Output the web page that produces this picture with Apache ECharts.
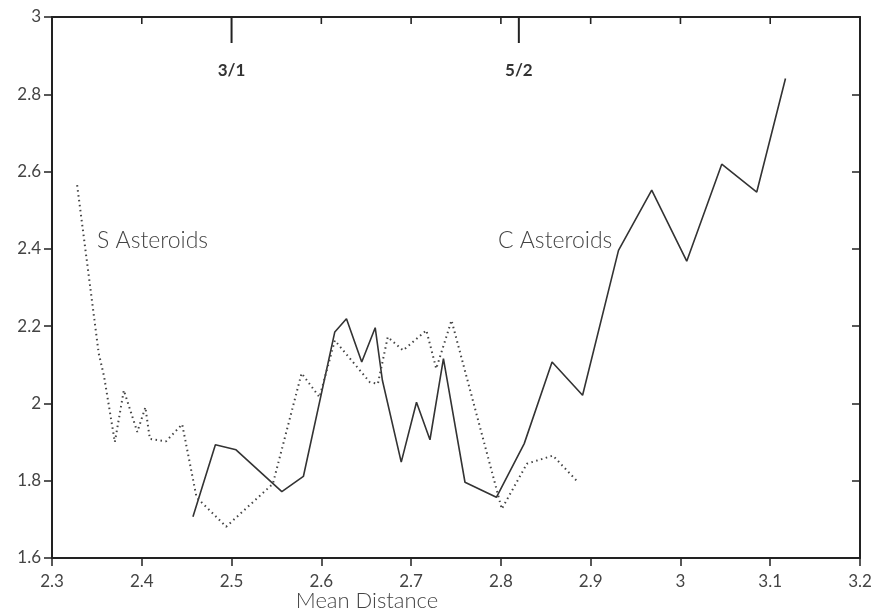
<!DOCTYPE html>
<html>
<head>
<meta charset="utf-8">
<script src="https://cdn.jsdelivr.net/npm/echarts@6/dist/echarts.min.js"></script>
<style>html,body{margin:0;padding:0;background:#fff;}#c{width:889px;height:613px;}</style>
</head>
<body>
<div id="c"></div>
<script>
// C asteroids (solid)
const cX = [2.457, 2.482, 2.505, 2.556, 2.580, 2.615, 2.628, 2.645, 2.660, 2.668, 2.689, 2.706, 2.721, 2.736, 2.760, 2.795, 2.826, 2.857, 2.891, 2.931, 2.968, 3.007, 3.046, 3.085, 3.117];
const cY = [1.707, 1.893, 1.880, 1.772, 1.811, 2.185, 2.219, 2.107, 2.196, 2.060, 1.848, 2.003, 1.906, 2.116, 1.796, 1.757, 1.896, 2.107, 2.021, 2.396, 2.552, 2.368, 2.619, 2.547, 2.841];
// S asteroids (dotted)
const sX = [2.328, 2.352, 2.358, 2.370, 2.380, 2.395, 2.404, 2.409, 2.427, 2.445, 2.461, 2.494, 2.546, 2.578, 2.598, 2.615, 2.654, 2.663, 2.674, 2.691, 2.717, 2.728, 2.745, 2.801, 2.829, 2.858, 2.886];
const sY = [2.565, 2.130, 2.070, 1.900, 2.034, 1.926, 1.990, 1.908, 1.902, 1.946, 1.757, 1.681, 1.792, 2.078, 2.016, 2.163, 2.055, 2.051, 2.172, 2.137, 2.189, 2.090, 2.215, 1.727, 1.844, 1.865, 1.796];
// resonances
const resLabels = ['3/1', '5/2'];
const resX = [2.5, 2.82];
// top-axis minor ticks
const xTicks = [2.4, 2.6, 2.7, 2.8, 2.9, 3.0, 3.1];
const xMin = 2.3, xMax = 3.2, xStep = 0.1;
const yMin = 1.6, yMax = 3, yStep = 0.2;

const FONT = 'Lato, "Open Sans", sans-serif';
const fmt = v => String(+(+v).toFixed(1));
const marks = resX.map((x, i) => [x, yMax, i]).concat(xTicks.map(x => [x, yMax, -1]));
const chart = echarts.init(document.getElementById('c'));
chart.setOption({
  animation: false,
  backgroundColor: '#fff',
  grid: {left: 52, right: 29, top: 17, bottom: 55},
  xAxis: [{
    type: 'value', min: xMin, max: xMax, interval: xStep, position: 'bottom',
    axisLine: {onZero: false, lineStyle: {color: '#222', width: 2}},
    axisTick: {show: true, length: 8, inside: false, lineStyle: {color: '#222', width: 1.5}},
    axisLabel: {formatter: fmt, color: '#444', fontSize: 17, fontFamily: FONT, margin: 15},
    splitLine: {show: false}
  }, {
    type: 'value', min: xMin, max: xMax, interval: xStep, position: 'top',
    axisLine: {show: true, onZero: false, lineStyle: {color: '#222', width: 2}},
    axisTick: {show: false}, axisLabel: {show: false}, splitLine: {show: false}
  }],
  yAxis: [{
    type: 'value', min: yMin, max: yMax, interval: yStep, position: 'left',
    axisLine: {show: true, onZero: false, lineStyle: {color: '#222', width: 2}},
    axisTick: {show: true, length: 8, inside: false, lineStyle: {color: '#222', width: 1.5}},
    axisLabel: {formatter: fmt, color: '#444', fontSize: 17, fontFamily: FONT, margin: 11},
    splitLine: {show: false}
  }, {
    type: 'value', min: yMin, max: yMax, interval: yStep, position: 'right',
    axisLine: {show: true, onZero: false, lineStyle: {color: '#222', width: 2}},
    axisTick: {show: true, length: 8, inside: true, lineStyle: {color: '#222', width: 1.5}},
    axisLabel: {show: false}, splitLine: {show: false}
  }],
  series: [{
    type: 'line', name: 'C Asteroids', showSymbol: false, symbol: 'none',
    data: cX.map((x, i) => [x, cY[i]]),
    lineStyle: {color: '#333', width: 1.6}
  }, {
    type: 'line', name: 'S Asteroids', showSymbol: false, symbol: 'none',
    data: sX.map((x, i) => [x, sY[i]]),
    lineStyle: {color: '#444', width: 2, type: [1.5, 3.5]}
  }, {
    type: 'custom', name: 'resonances', silent: true,
    data: marks,
    renderItem: (params, api) => {
      const p = api.coord([api.value(0), api.value(1)]);
      const k = api.value(2);
      if (k < 0) {
        return {type: 'group', children: [
          {type: 'line', shape: {x1: p[0], y1: p[1], x2: p[0], y2: p[1] + 7}, style: {stroke: '#222', lineWidth: 1.6}},
          {type: 'text', x: p[0], y: p[1] + 10, style: {text: ' ', fill: '#fff', font: '1px ' + FONT}}
        ]};
      }
      return {type: 'group', children: [
        {type: 'line', shape: {x1: p[0], y1: p[1], x2: p[0], y2: p[1] + 26}, style: {stroke: '#222', lineWidth: 2}},
        {type: 'text', x: p[0], y: p[1] + 54, style: {text: resLabels[k], fill: '#333', font: 'bold 17px ' + FONT, align: 'center', verticalAlign: 'middle'}}
      ]};
    }
  }],
  graphic: [
    {type: 'text', left: 97, top: 229, style: {text: 'S Asteroids', fill: '#444', font: '300 23px ' + FONT}},
    {type: 'text', left: 498, top: 229, style: {text: 'C Asteroids', fill: '#444', font: '300 23px ' + FONT}},
    {type: 'text', x: 367, y: 601, style: {text: 'Mean Distance', fill: '#444', font: '300 22px ' + FONT, align: 'center', verticalAlign: 'middle'}}
  ]
});
</script>
</body>
</html>
